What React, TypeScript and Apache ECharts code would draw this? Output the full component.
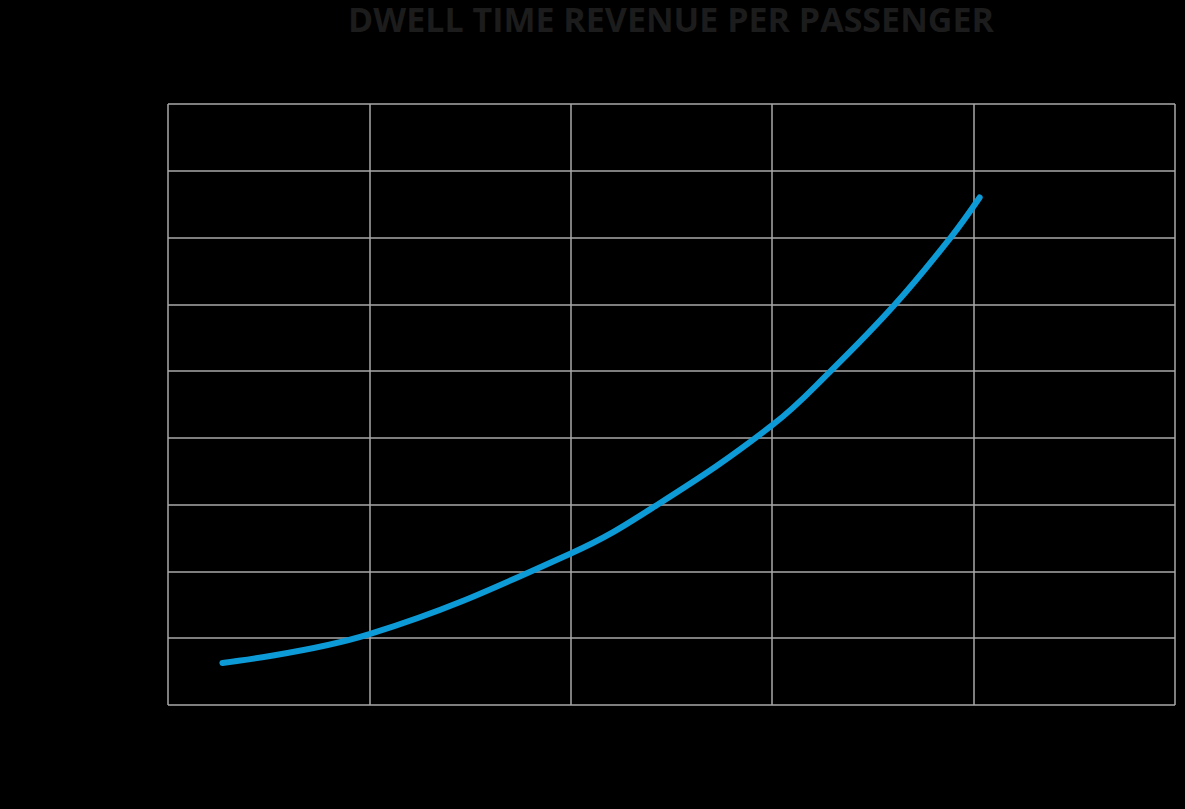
import React, { useEffect, useRef } from "react";
import * as echarts from "echarts";

const titleText = "DWELL TIME REVENUE PER PASSENGER";
const xValues = [0.27, 1.0, 2.0, 2.43, 3.0, 3.29, 3.61, 3.886, 4.03];
const yValues = [0.63, 1.06, 2.27, 3.0, 4.19, 5.0, 6.0, 7.0, 7.6];
const xMax = 5;
const yMax = 9;

export default function App() {
  const ref = useRef<HTMLDivElement>(null);
  useEffect(() => {
    if (!ref.current) return;
    const chart = echarts.init(ref.current, undefined, { renderer: "svg" });
    const gridColor = "#a8a8a8";
    chart.setOption({
      animation: false,
      backgroundColor: "#000000",
      graphic: [
        {
          type: "text",
          x: 671,
          y: 19,
          style: {
            text: titleText,
            fill: "#1c1c1c",
            font: "bold 34px 'Open Sans', sans-serif",
            lineHeight: 30,
            textAlign: "center",
            textVerticalAlign: "middle",
          },
        },
      ],
      grid: { left: 168, right: 10, top: 104, bottom: 104 },
      xAxis: {
        type: "value",
        min: 0,
        max: xMax,
        interval: 1,
        axisLine: { show: false },
        axisTick: { show: false },
        axisLabel: { show: false },
        splitLine: { show: true, lineStyle: { color: gridColor, width: 1.5 } },
      },
      yAxis: {
        type: "value",
        min: 0,
        max: yMax,
        interval: 1,
        axisLine: { show: false },
        axisTick: { show: false },
        axisLabel: { show: false },
        splitLine: { show: true, lineStyle: { color: gridColor, width: 1.5 } },
      },
      series: [
        {
          type: "line",
          data: xValues.map((x, i) => [x, yValues[i]]),
          smooth: 0.4,
          symbol: "none",
          lineStyle: { color: "#0d9bd8", width: 6, cap: "round" },
        },
      ],
    });
    return () => chart.dispose();
  }, []);
  return (
    <div
      ref={ref}
      style={{ position: "fixed", left: 0, top: 0, width: 1185, height: 809, background: "#000" }}
    />
  );
}
